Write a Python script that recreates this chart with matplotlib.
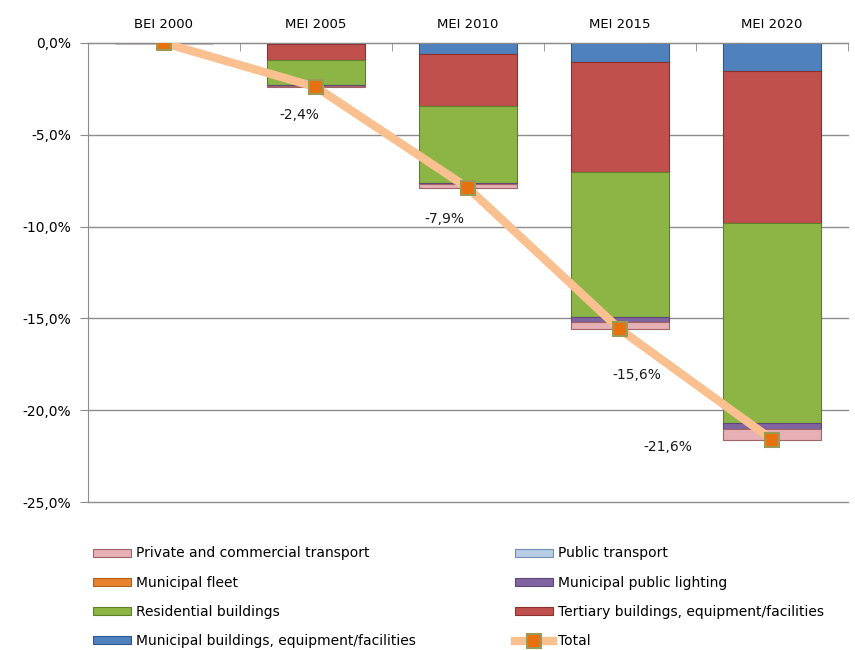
import matplotlib.pyplot as plt
from matplotlib.ticker import FuncFormatter, FixedLocator
import numpy as np

categorias = ["BEI 2000", "MEI 2005", "MEI 2010", "MEI 2015", "MEI 2020"]

# series, de la más cercana a cero hacia abajo (en %)
edif_municipales = [0.0, -0.05, -0.6, -1.05, -1.5]
terciario = [0.0, -0.85, -2.85, -5.95, -8.3]
residencial = [0.0, -1.4, -4.15, -7.95, -10.9]
alumbrado = [0.0, -0.04, -0.1, -0.25, -0.3]
flota = [0.0, 0.0, 0.0, 0.0, 0.0]
transporte_publico = [0.0, 0.0, 0.0, 0.0, 0.0]
transporte_privado = [0.0, -0.06, -0.2, -0.4, -0.6]
total = [0.0, -2.4, -7.9, -15.6, -21.6]

series = [
    ("Municipal buildings, equipment/facilities", edif_municipales, "#4F81BD", "#2C5A8F"),
    ("Tertiary buildings, equipment/facilities", terciario, "#C0504D", "#8C2F2D"),
    ("Residential buildings", residencial, "#8DB545", "#5E7F2C"),
    ("Municipal public lighting", alumbrado, "#8064A2", "#5C4778"),
    ("Municipal fleet", flota, "#E9822E", "#B35E16"),
    ("Public transport", transporte_publico, "#B9CDE5", "#6F8FB5"),
    ("Private and commercial transport", transporte_privado, "#E6B0B4", "#A06468"),
]

# etiquetas del total: desplazamiento en pixeles
desplazamientos = [None, (-17, -28), (-24, -31), (17, -46), (-104, -7)]

fig = plt.figure(figsize=(8.55, 6.5), dpi=100)
ax = fig.add_axes([88 / 855, 1 - 502 / 650, 760 / 855, 459 / 650])

x = np.arange(len(categorias))
base = np.zeros(len(categorias))
barras = {}
for nombre, valores, color, borde in series:
    v = np.array(valores)
    b = ax.bar(x, v, 0.64, bottom=base, color=color, edgecolor=borde,
               linewidth=0.8, zorder=2, label=nombre)
    barras[nombre] = b
    base = base + v

linea, = ax.plot(x, total, color="#FAC090", lw=6, marker="s", markersize=10,
                 markerfacecolor="#E8700F", markeredgecolor="#9A9A55",
                 markeredgewidth=1.5, zorder=4, label="Total")

for i, val in enumerate(total):
    if desplazamientos[i] is None:
        continue
    ax.annotate(f"{val:.1f}%".replace(".", ","), (x[i], val),
                xytext=desplazamientos[i], textcoords="offset pixels",
                ha="center", va="center", fontsize=10, color="#1a1a1a", zorder=5)

ax.set_xlim(-0.5, len(categorias) - 0.5)
ax.set_ylim(-25, 0)
ax.yaxis.set_major_locator(FixedLocator([0, -5, -10, -15, -20, -25]))
ax.yaxis.set_major_formatter(FuncFormatter(lambda v, p: f"{v:.1f}%".replace(".", ",")))
ax.grid(axis="y", color="#8C8C8C", lw=1, zorder=0)
for g in ax.get_ygridlines():
    g.set_clip_on(False)
ax.set_axisbelow(True)

ax.xaxis.tick_top()
ax.set_xticks(x)
ax.set_xticklabels(categorias, fontsize=9.5)
ax.set_xticks(np.arange(len(categorias) + 1) - 0.5, minor=True)
ax.tick_params(axis="x", which="major", length=0, pad=9)
ax.tick_params(axis="x", which="minor", length=6, direction="in", color="#8C8C8C")
ax.tick_params(axis="y", length=6, color="#8C8C8C", labelsize=10, pad=6)

for lado in ["bottom", "right"]:
    ax.spines[lado].set_visible(False)
for lado in ["top", "left"]:
    ax.spines[lado].set_color("#8C8C8C")

# leyenda en orden de la referencia
orden = ["Private and commercial transport", "Public transport", "Municipal fleet",
         "Municipal public lighting", "Residential buildings",
         "Tertiary buildings, equipment/facilities",
         "Municipal buildings, equipment/facilities"]
handles = [barras[n] for n in orden] + [linea]
labels = orden + ["Total"]
# matplotlib llena por columnas: reordenar para filas
h_cols = handles[0::2] + handles[1::2]
l_cols = labels[0::2] + labels[1::2]
fig.legend(h_cols, l_cols, ncol=2, loc="upper left",
           bbox_to_anchor=(80 / 855, 1 - 534 / 650), frameon=False,
           fontsize=10, handlelength=2.75, handleheight=0.5, handletextpad=0.4,
           labelspacing=1.1, columnspacing=7.1)

fig.savefig("out.png", dpi=100)
